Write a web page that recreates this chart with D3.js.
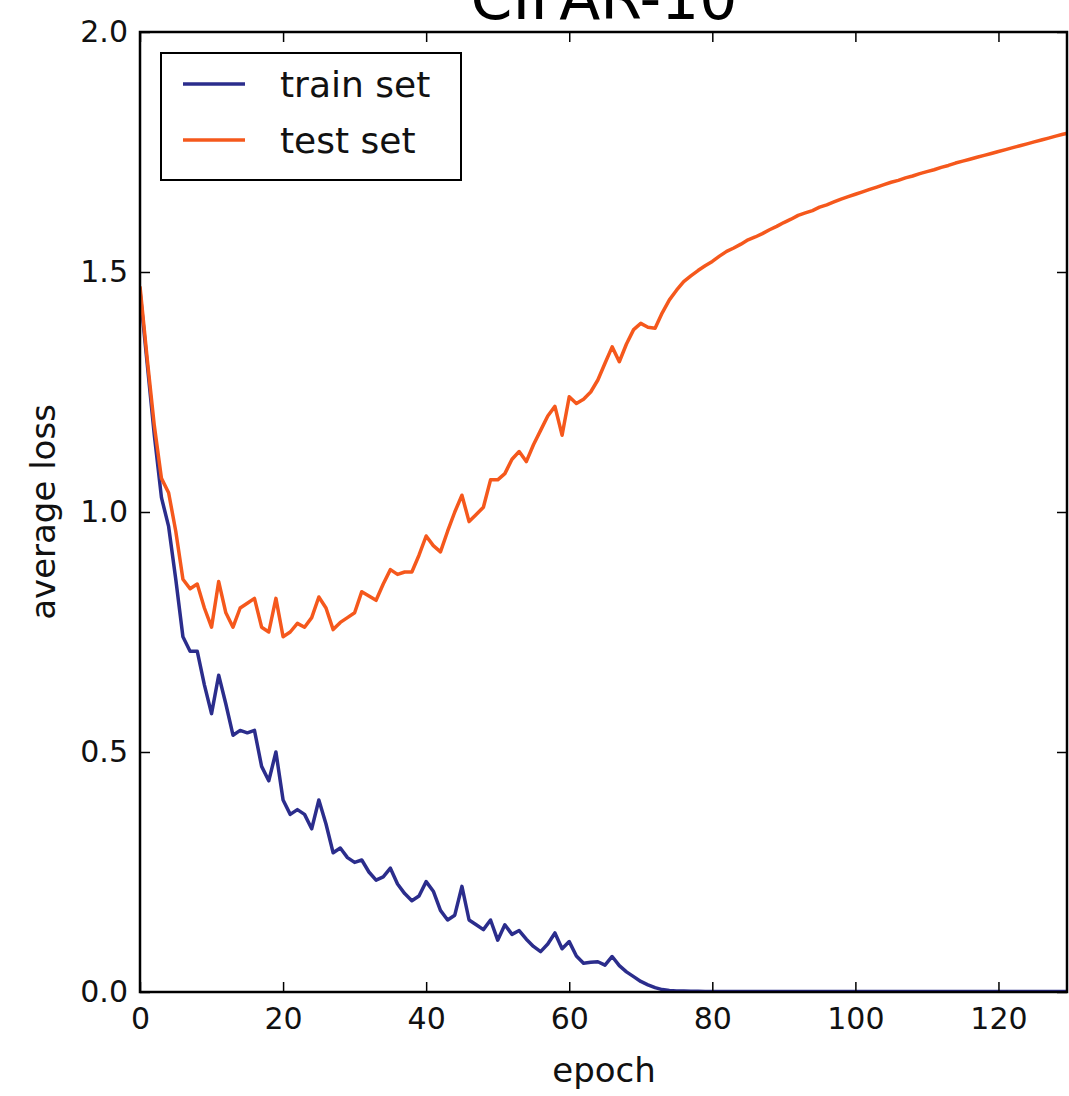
<!DOCTYPE html>
<html>
<head>
<meta charset="utf-8">
<script src="https://cdn.jsdelivr.net/npm/d3@7"></script>
<style>
  html, body { margin: 0; padding: 0; background: #fff; }
  svg { display: block; font-family: "DejaVu Sans", sans-serif; }
</style>
</head>
<body>
<svg id="chart" width="1069" height="1096"></svg>
<script>
const chartTitle = "CIFAR-10";
const xLabel = "epoch";
const yLabel = "average loss";
const seriesNames = ["train set", "test set"];
const xTicks = [0, 20, 40, 60, 80, 100, 120];
const yTicks = [0.0, 0.5, 1.0, 1.5, 2.0];

const trainLoss = [
  1.46, 1.31, 1.16, 1.03, 0.97, 0.86, 0.74, 0.71, 0.71, 0.64,
  0.58, 0.66, 0.60, 0.535, 0.545, 0.54, 0.545, 0.47, 0.44, 0.50,
  0.40, 0.37, 0.38, 0.37, 0.34, 0.40, 0.35, 0.29, 0.30, 0.28,
  0.27, 0.275, 0.25, 0.233, 0.24, 0.258, 0.225, 0.205, 0.19, 0.20,
  0.23, 0.21, 0.17, 0.15, 0.16, 0.22, 0.15, 0.14, 0.13, 0.15,
  0.108, 0.14, 0.12, 0.128, 0.11, 0.095, 0.084, 0.10, 0.123, 0.09,
  0.105, 0.075, 0.06, 0.062, 0.063, 0.056, 0.074, 0.055, 0.042, 0.032,
  0.022, 0.015, 0.009, 0.005, 0.003, 0.002, 0.002, 0.0015, 0.0015, 0.001,
  0.001, 0.001, 0.001, 0.001, 0.001, 0.001, 0.001, 0.001, 0.001, 0.001,
  0.001, 0.001, 0.001, 0.001, 0.001, 0.001, 0.001, 0.001, 0.001, 0.001,
  0.001, 0.001, 0.001, 0.001, 0.001, 0.001, 0.001, 0.001, 0.001, 0.001,
  0.001, 0.001, 0.001, 0.001, 0.001, 0.001, 0.001, 0.001, 0.001, 0.001,
  0.001, 0.001, 0.001, 0.001, 0.001, 0.001, 0.001, 0.001, 0.001, 0.001,
  0.001
];

const testLoss = [
  1.47, 1.32, 1.18, 1.07, 1.04, 0.96, 0.86, 0.84, 0.85, 0.80,
  0.76, 0.855, 0.79, 0.76, 0.80, 0.81, 0.82, 0.76, 0.75, 0.82,
  0.74, 0.75, 0.768, 0.76, 0.78, 0.823, 0.80, 0.755, 0.77, 0.78,
  0.79, 0.834, 0.825, 0.816, 0.85, 0.88, 0.87, 0.875, 0.875, 0.91,
  0.95, 0.93, 0.917, 0.96, 1.00, 1.035, 0.98, 0.995, 1.01, 1.067,
  1.067, 1.08, 1.11, 1.126, 1.105, 1.14, 1.17, 1.20, 1.22, 1.16,
  1.24, 1.226, 1.235, 1.25, 1.275, 1.31, 1.344, 1.313, 1.35, 1.38,
  1.393, 1.385, 1.383, 1.415, 1.442, 1.462, 1.48, 1.492, 1.503, 1.513,
  1.522, 1.533, 1.543, 1.55, 1.558, 1.567, 1.573, 1.58, 1.588, 1.595,
  1.603, 1.61, 1.618, 1.623, 1.628, 1.635, 1.64, 1.646, 1.652, 1.657,
  1.662, 1.667, 1.672, 1.677, 1.682, 1.687, 1.691, 1.696, 1.70, 1.705,
  1.709, 1.713, 1.718, 1.722, 1.727, 1.731, 1.735, 1.739, 1.743, 1.747,
  1.751, 1.755, 1.759, 1.763, 1.767, 1.771, 1.775, 1.779, 1.783, 1.787,
  1.79
];

const colors = ["#2b2d8c", "#f5581c"];

const svg = d3.select("#chart");
const margin = { left: 140, top: 32, right: 1067, bottom: 992 };

const x = d3.scaleLinear().domain([0, 130]).range([margin.left, 1070]);
const y = d3.scaleLinear().domain([0, 2.0]).range([margin.bottom, margin.top]);

// title (partially cut off at the top, as in the reference)
svg.append("text")
  .attr("x", 604).attr("y", 19)
  .attr("text-anchor", "middle")
  .attr("font-size", 60)
  .attr("fill", "#000")
  .text(chartTitle);

// plot area clip
svg.append("defs").append("clipPath").attr("id", "plotclip")
  .append("rect")
  .attr("x", margin.left).attr("y", margin.top)
  .attr("width", margin.right - margin.left).attr("height", margin.bottom - margin.top);

const line = d3.line().x((d, i) => x(i)).y(d => y(d));

const plot = svg.append("g").attr("clip-path", "url(#plotclip)");
[trainLoss, testLoss].forEach((series, k) => {
  plot.append("path")
    .datum(series)
    .attr("d", line)
    .attr("fill", "none")
    .attr("stroke", colors[k])
    .attr("stroke-width", 3.5)
    .attr("stroke-linejoin", "round");
});

// axes (ticks inward, on all sides)
const tickLen = 10;
const fmt = d3.format(".1f");

const xAxisB = d3.axisBottom(x).tickValues(xTicks).tickSizeInner(-tickLen).tickSizeOuter(0).tickPadding(16);
const gxB = svg.append("g").attr("transform", `translate(0,${margin.bottom})`).call(xAxisB);
const xAxisT = d3.axisTop(x).tickValues(xTicks).tickSizeInner(-tickLen).tickSizeOuter(0).tickFormat("");
const gxT = svg.append("g").attr("transform", `translate(0,${margin.top})`).call(xAxisT);

const yAxisL = d3.axisLeft(y).tickValues(yTicks).tickSizeInner(-tickLen).tickSizeOuter(0).tickPadding(12).tickFormat(fmt);
const gyL = svg.append("g").attr("transform", `translate(${margin.left},0)`).call(yAxisL);
const yAxisR = d3.axisRight(y).tickValues(yTicks).tickSizeInner(-tickLen).tickSizeOuter(0).tickFormat("");
const gyR = svg.append("g").attr("transform", `translate(${margin.right},0)`).call(yAxisR);

[gxB, gxT, gyL, gyR].forEach(g => {
  g.select(".domain").remove();
  g.selectAll(".tick line").attr("stroke", "#000").attr("stroke-width", 1.5);
  g.selectAll(".tick text").attr("font-size", 30).attr("fill", "#111")
    .attr("font-family", "DejaVu Sans, sans-serif");
});
gxB.selectAll(".tick text").attr("dy", "0.71em");

// frame
svg.append("rect")
  .attr("x", margin.left).attr("y", margin.top)
  .attr("width", margin.right - margin.left).attr("height", margin.bottom - margin.top)
  .attr("fill", "none").attr("stroke", "#000").attr("stroke-width", 2.5);

// axis labels
svg.append("text")
  .attr("x", 604).attr("y", 1082)
  .attr("text-anchor", "middle")
  .attr("font-size", 34).attr("fill", "#111")
  .text(xLabel);

svg.append("text")
  .attr("transform", `translate(55,512) rotate(-90)`)
  .attr("text-anchor", "middle")
  .attr("font-size", 34).attr("fill", "#111")
  .text(yLabel);

// legend
const lg = svg.append("g");
lg.append("rect")
  .attr("x", 161).attr("y", 53)
  .attr("width", 300).attr("height", 127)
  .attr("fill", "#fff").attr("stroke", "#000").attr("stroke-width", 2);
seriesNames.forEach((name, k) => {
  const cy = 84 + k * 56;
  lg.append("line")
    .attr("x1", 183).attr("x2", 245)
    .attr("y1", cy).attr("y2", cy)
    .attr("stroke", colors[k]).attr("stroke-width", 3.5);
  lg.append("text")
    .attr("x", 280).attr("y", cy)
    .attr("dy", "0.35em")
    .attr("font-size", 36).attr("fill", "#111")
    .text(name);
});
</script>
</body>
</html>
